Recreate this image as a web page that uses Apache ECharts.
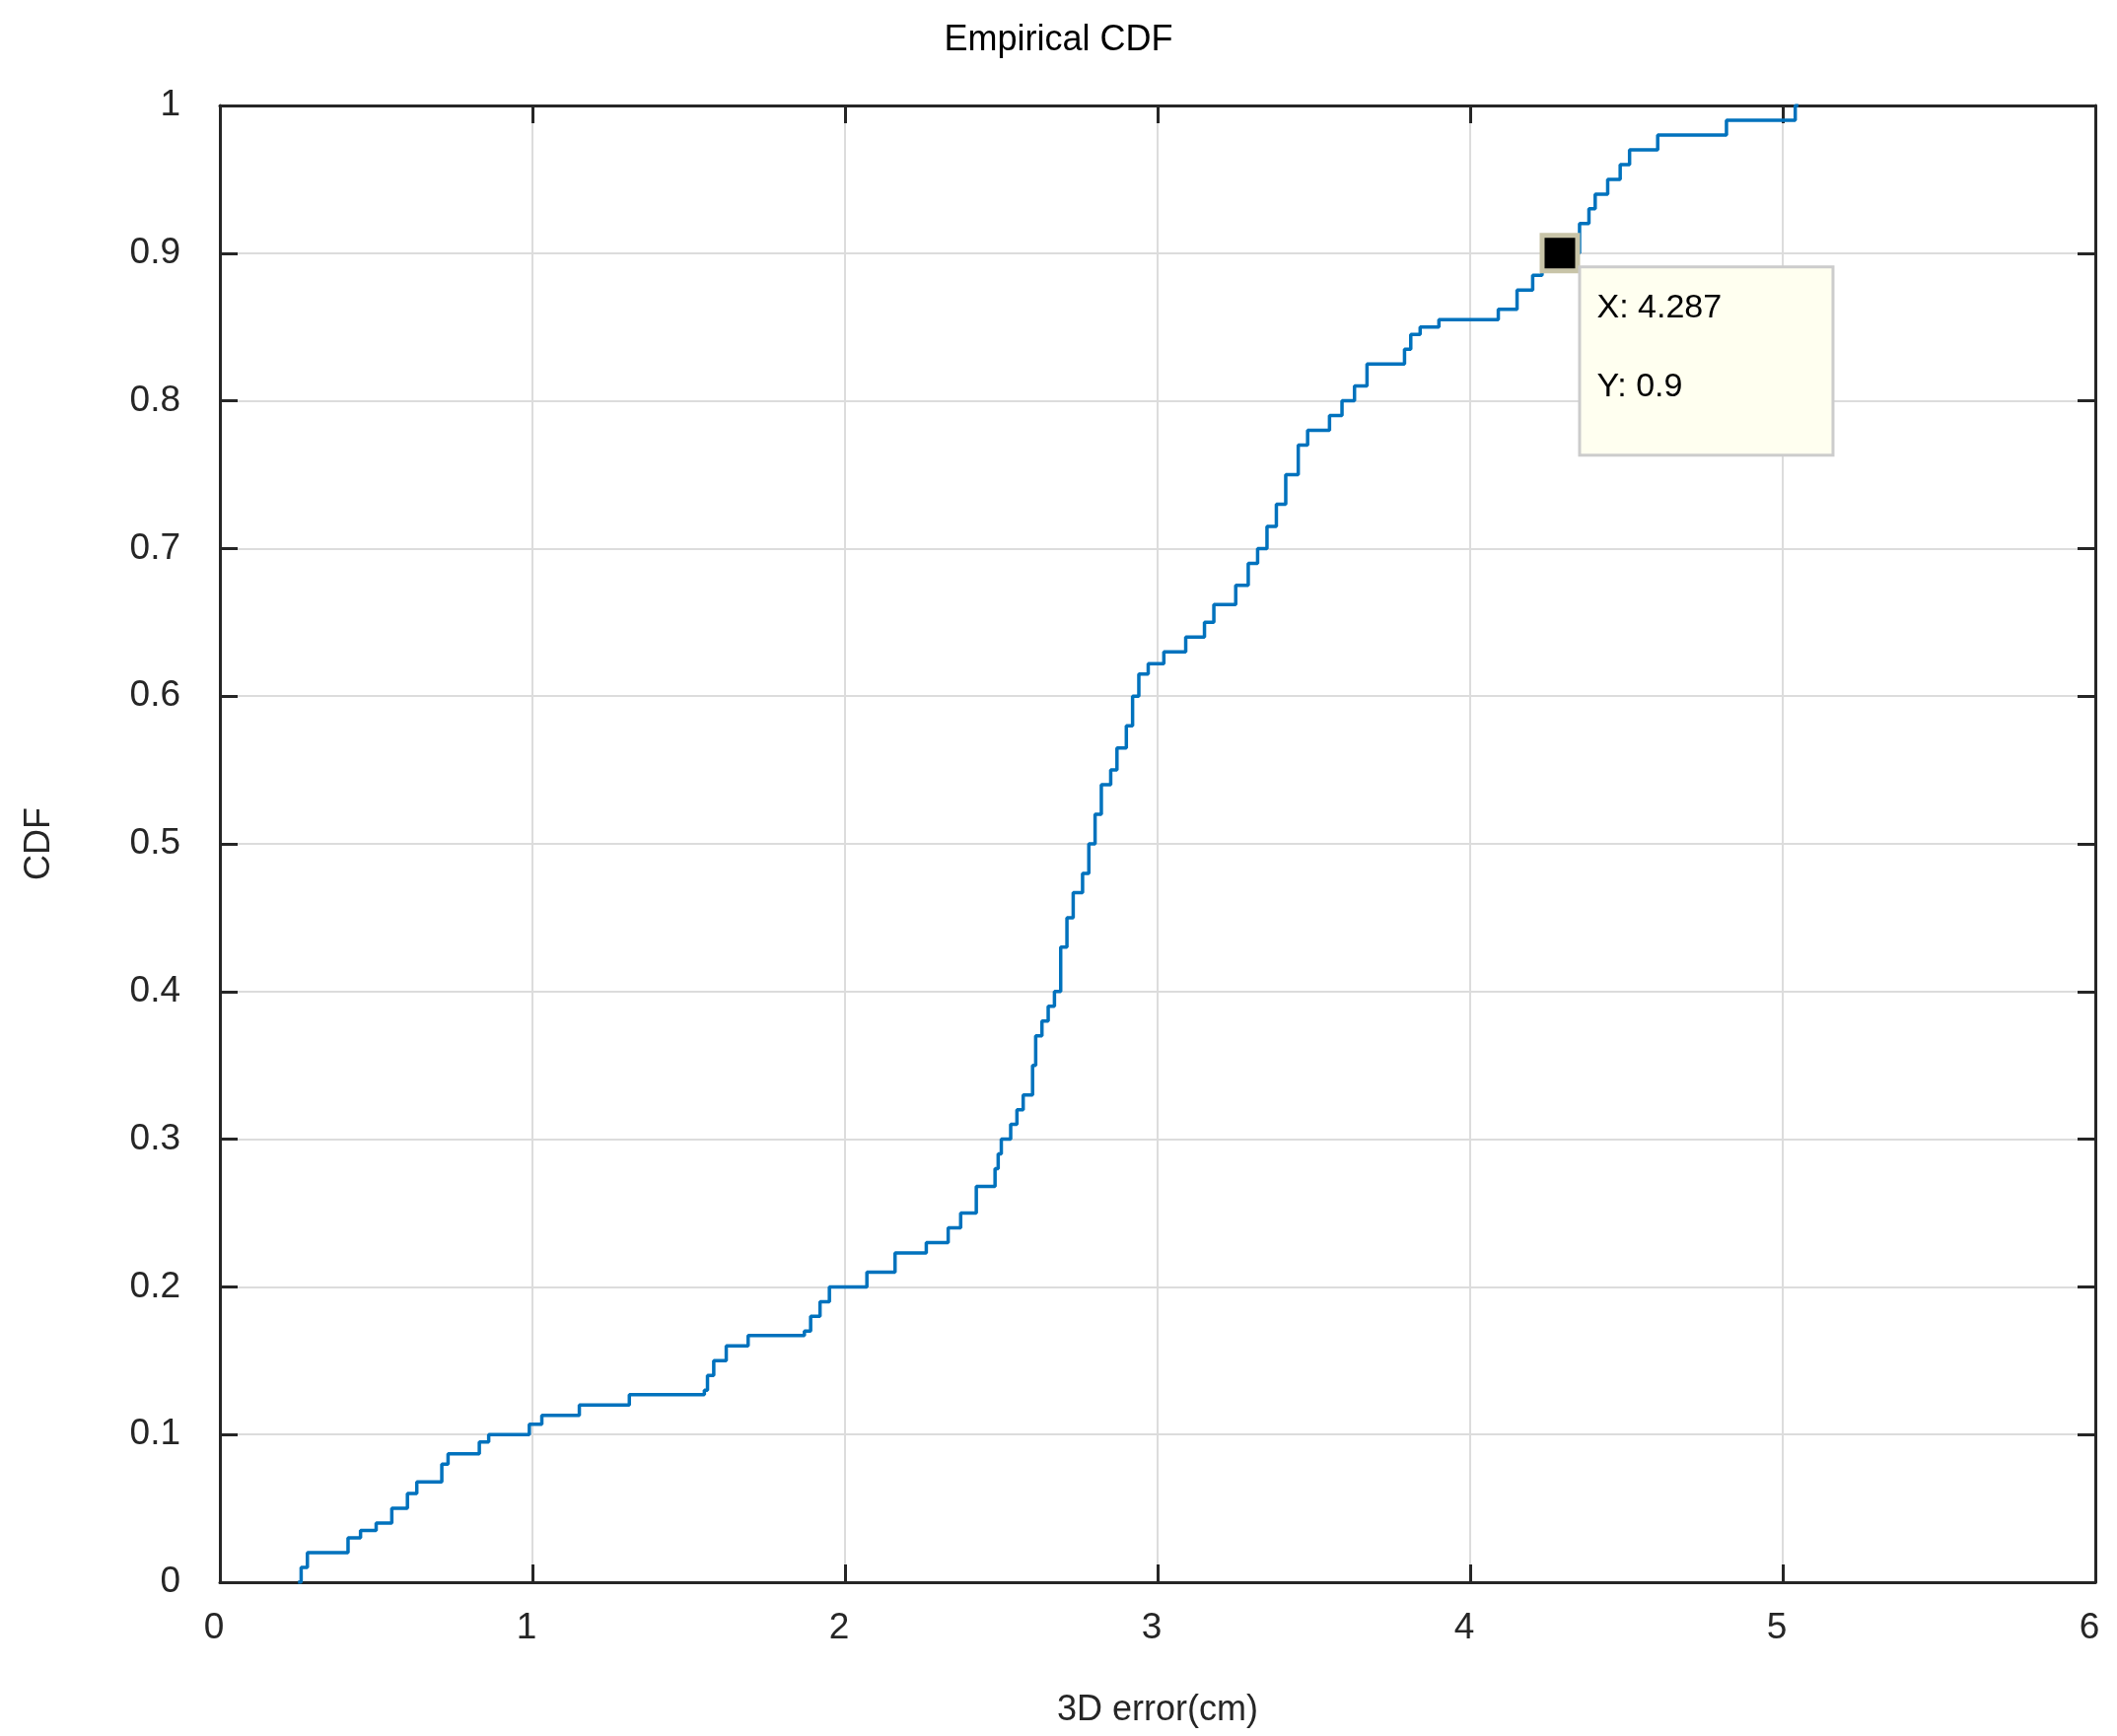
<!DOCTYPE html>
<html>
<head>
<meta charset="utf-8">
<script src="https://cdn.jsdelivr.net/npm/echarts@6/dist/echarts.min.js"></script>
<style>html,body{margin:0;padding:0;background:#fff}#chartmain{width:2147px;height:1761px}</style>
</head>
<body>
<div id="chartmain"></div>
<script>
// step positions (3D error, cm) and CDF level after each step
var errX = [0.25, 0.26, 0.28, 0.41, 0.45, 0.50, 0.55, 0.60, 0.63, 0.71, 0.73, 0.83, 0.86, 0.99, 1.03, 1.15, 1.31,
	1.55, 1.56, 1.58, 1.62, 1.69, 1.87, 1.89, 1.92, 1.95, 2.07, 2.16, 2.26, 2.33, 2.37, 2.42, 2.48, 2.49, 2.50,
	2.53, 2.55, 2.57, 2.60, 2.61, 2.63, 2.65, 2.67, 2.69, 2.71, 2.73, 2.76, 2.78, 2.80, 2.82, 2.85, 2.87, 2.90,
	2.92, 2.94, 2.97, 3.02, 3.09, 3.15, 3.18, 3.25, 3.29, 3.32, 3.35, 3.38, 3.41, 3.45, 3.48, 3.55, 3.59, 3.63,
	3.67, 3.79, 3.81, 3.84, 3.90, 4.09, 4.15, 4.20, 4.23, 4.287, 4.35, 4.38, 4.40, 4.44, 4.48, 4.51, 4.60, 4.82, 5.04, 5.05];
var cdfY = [0, 0.01, 0.02, 0.03, 0.035, 0.04, 0.05, 0.06, 0.068, 0.08, 0.087, 0.095, 0.1, 0.107, 0.113, 0.12, 0.127,
	0.13, 0.14, 0.15, 0.16, 0.167, 0.17, 0.18, 0.19, 0.2, 0.21, 0.223, 0.23, 0.24, 0.25, 0.268, 0.28, 0.29, 0.3,
	0.31, 0.32, 0.33, 0.35, 0.37, 0.38, 0.39, 0.4, 0.43, 0.45, 0.467, 0.48, 0.5, 0.52, 0.54, 0.55, 0.565, 0.58,
	0.6, 0.615, 0.622, 0.63, 0.64, 0.65, 0.662, 0.675, 0.69, 0.7, 0.715, 0.73, 0.75, 0.77, 0.78, 0.79, 0.8, 0.81,
	0.825, 0.835, 0.845, 0.85, 0.855, 0.862, 0.875, 0.885, 0.89, 0.9, 0.92, 0.93, 0.94, 0.95, 0.96, 0.97, 0.98, 0.99, 1.0, 1.0];
var tipX = 4.287;
var tipY = 0.9;

var axisCol = '#262626';
var font = 'Arial, "Liberation Sans", sans-serif';
var line = [];
for (var i = 0; i < errX.length; i++) line.push([errX[i], cdfY[i]]);

var tick = { inside: true, length: 18, lineStyle: { color: axisCol, width: 3 } };
var option = {
	backgroundColor: '#fff',
	title: {
		text: 'Empirical CDF', left: 'center', top: 18,
		textStyle: { fontFamily: font, fontSize: 36, fontWeight: 'normal', color: '#000' }
	},
	grid: { left: 223, right: 22, top: 107, bottom: 156 },
	xAxis: [{
		type: 'value', min: 0, max: 6, interval: 1,
		name: '3D error(cm)', nameLocation: 'middle', nameGap: 112,
		nameTextStyle: { fontFamily: font, fontSize: 36, color: '#262626' },
		axisLine: { onZero: false, lineStyle: { color: axisCol, width: 3 } },
		axisTick: tick,
		axisLabel: { fontFamily: font, fontSize: 37, color: '#262626', margin: 28, padding: [0, 12, 0, 0] },
		splitLine: { show: true, lineStyle: { color: '#dcdcdc', width: 2 } }
	}, {
		type: 'value', position: 'top', min: 0, max: 6, interval: 1,
		axisLine: { show: true, onZero: false, lineStyle: { color: axisCol, width: 3 } },
		axisTick: tick,
		axisLabel: { show: false }, splitLine: { show: false }
	}],
	yAxis: [{
		type: 'value', min: 0, max: 1, interval: 0.1,
		name: 'CDF', nameLocation: 'middle', nameGap: 165, nameRotate: 90,
		nameTextStyle: { fontFamily: font, fontSize: 36, color: '#262626' },
		axisLine: { onZero: false, lineStyle: { color: axisCol, width: 3 } },
		axisTick: tick,
		axisLabel: { fontFamily: font, fontSize: 37, color: '#262626', margin: 40, padding: [0, 0, 30, 0],
			formatter: function (v) { return +v.toFixed(1) + ''; } },
		splitLine: { show: true, lineStyle: { color: '#dcdcdc', width: 2 } }
	}, {
		type: 'value', position: 'right', min: 0, max: 1, interval: 0.1,
		axisLine: { show: true, onZero: false, lineStyle: { color: axisCol, width: 3 } },
		axisTick: tick,
		axisLabel: { show: false }, splitLine: { show: false }
	}],
	series: [{
		type: 'line', step: 'end', data: line, showSymbol: false, animation: false,
		lineStyle: { color: '#0072bd', width: 3.5 }
	}, {
		type: 'scatter', data: [[tipX, tipY]], symbol: 'rect', symbolSize: 36, animation: false, z: 5,
		itemStyle: { color: '#000', borderColor: '#c8c4a8', borderWidth: 5, opacity: 1 },
		label: {
			show: true, position: [42, 36], align: 'left', verticalAlign: 'top',
			formatter: 'X: ' + tipX + '\nY: ' + tipY,
			fontFamily: font, fontSize: 34, color: '#000', lineHeight: 80,
			width: 218, height: 158,
			backgroundColor: '#fffff0', borderColor: '#cccccc', borderWidth: 3,
			padding: [0, 20, 30, 16]
		}
	}]
};
var myChart = echarts.init(document.getElementById('chartmain'));
myChart.setOption(option);
</script>
</body>
</html>
